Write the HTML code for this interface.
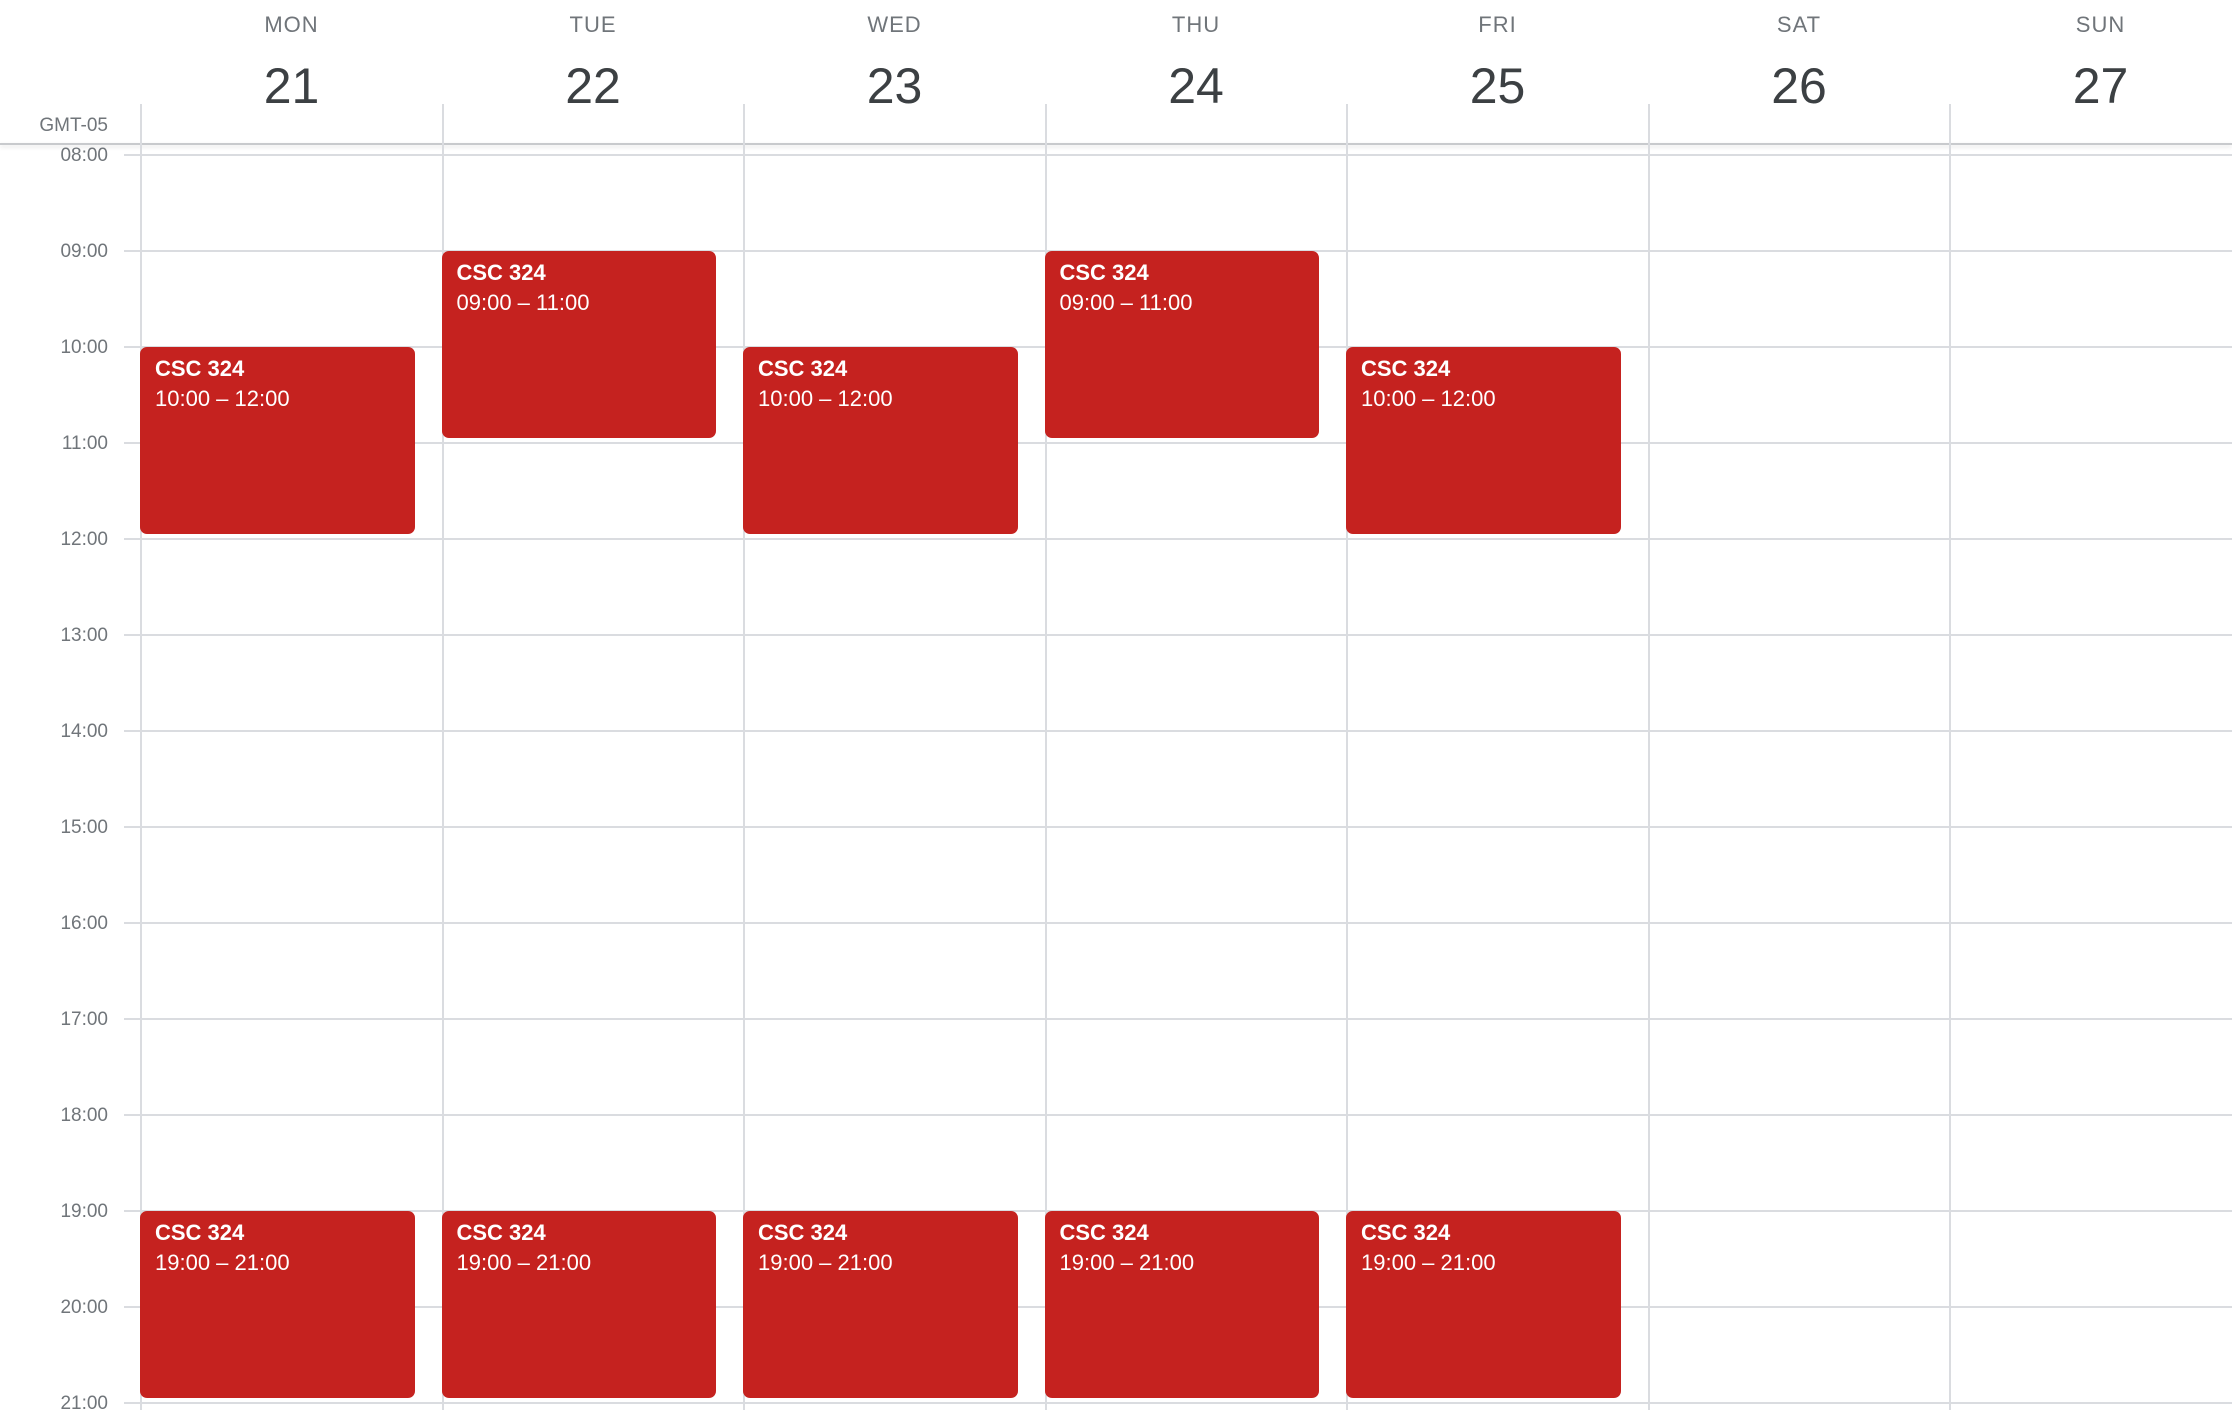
<!DOCTYPE html>
<html><head><meta charset="utf-8">
<style>
body{margin:0;width:2232px;height:1410px;overflow:hidden;background:#fff;font-family:"Liberation Sans",sans-serif;position:relative}
.abs{position:absolute}
.dow{position:absolute;top:12px;width:301px;text-align:center;font-size:22px;color:#70757a;letter-spacing:1px}
.date{position:absolute;top:57px;width:301px;text-align:center;font-size:50px;color:#3c4043}
.tl{position:absolute;right:2124px;font-size:19px;color:#70757a;transform:translateY(-45%)}
.hl{position:absolute;left:124px;right:0;height:2px;background:#dadce0}
.vl{position:absolute;top:104px;bottom:0;width:2px;background:#dadce0}
.ev{position:absolute;background:#c5221f;border-radius:7px;color:#fff;box-sizing:border-box;padding:7px 15px}
.ev b{display:block;font-size:22px;font-weight:bold;line-height:30px}
.ev span{display:block;font-size:22px;line-height:30px}
</style></head><body>
<div class="abs" style="right:2124px;top:115px;font-size:19px;color:#70757a">GMT-05</div>
<div class="abs" style="left:0;right:0;top:143px;height:2px;background:#c8cacd;box-shadow:0 2px 4px rgba(0,0,0,0.12)"></div>
<script>
const days=["MON","TUE","WED","THU","FRI","SAT","SUN"];
const dates=[21,22,23,24,25,26,27];
const hours=["08:00","09:00","10:00","11:00","12:00","13:00","14:00","15:00","16:00","17:00","18:00","19:00","20:00","21:00"];
const evDay=[0,1,2,3,4,0,1,2,3,4];
const evStart=[10,9,10,9,10,19,19,19,19,19];
const evEnd=[12,11,12,11,12,21,21,21,21,21];
const evTitle="CSC 324";
const X0=141,CW=301.5,Y0=155,HH=96,H0=8;
const xs=i=>X0+i*CW, ys=h=>Y0+(h-H0)*HH;
const pad=n=>(n<10?"0":"")+n+":00";
hours.forEach((t,i)=>{
 const l=document.createElement('div');l.className='hl';l.style.top=(ys(H0+i)-1)+'px';
 
 
 document.body.appendChild(l);
 const d=document.createElement('div');d.className='tl';d.style.top=ys(H0+i)+'px';d.textContent=t;
 
 
 document.body.appendChild(d);
});
days.forEach((n,i)=>{
 const v=document.createElement('div');v.className='vl';v.style.left=(xs(i)-1)+'px';
 
 
 document.body.appendChild(v);
 const a=document.createElement('div');a.className='dow';a.style.left=xs(i)+'px';a.textContent=n;
 
 
 document.body.appendChild(a);
 const b=document.createElement('div');b.className='date';b.style.left=xs(i)+'px';b.textContent=dates[i];
 
 
 document.body.appendChild(b);
});
evDay.forEach((d,i)=>{
 const e=document.createElement('div');e.className='ev';
 e.style.left=(xs(d)-1)+'px';e.style.width=(CW-27)+'px';
 e.style.top=ys(evStart[i])+'px';e.style.height=(ys(evEnd[i])-ys(evStart[i])-5)+'px';
 e.innerHTML='<b>'+evTitle+'</b><span>'+pad(evStart[i])+' \u2013 '+pad(evEnd[i])+'</span>';
 
 
 document.body.appendChild(e);
});
</script>
</body></html>
